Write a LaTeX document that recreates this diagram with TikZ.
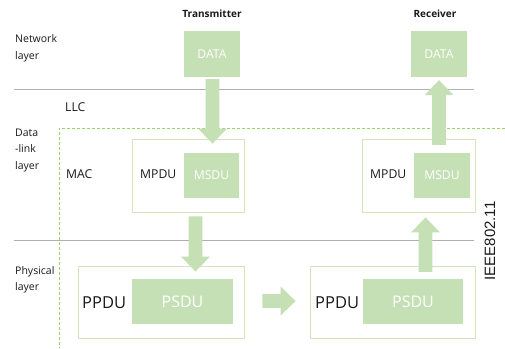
\documentclass[tikz,border=0pt]{standalone}
\usepackage{fontspec}
\setmainfont{Open Sans}
\newfontfamily\ieeefont{Liberation Sans}
\usetikzlibrary{calc}
\definecolor{boxgreen}{HTML}{C5E0B4}
\definecolor{edgegreen}{HTML}{CFE6C0}
\definecolor{dashgreen}{HTML}{9CD36E}
\definecolor{rulegray}{HTML}{B0B0B0}
\definecolor{txt}{HTML}{1A1A1A}
\newcommand{\greenarrow}[2]{%
  \path ($(#2)!15pt!(#1)$) coordinate (hb);
  \fill[boxgreen] ($(#1)!6.8pt!90:(#2)$) -- ($(hb)!6.8pt!90:(#2)$) -- ($(hb)!14.5pt!90:(#2)$) -- (#2)
    -- ($(hb)!14.5pt!-90:(#2)$) -- ($(hb)!6.8pt!-90:(#2)$) -- ($(#1)!6.8pt!-90:(#2)$) -- cycle;}
\begin{document}
\begin{tikzpicture}[x=1pt,y=-1pt,
  fillbox/.style={fill=boxgreen, draw=none, text=white, inner sep=0pt,
    font=\fontsize{12.2}{14}\selectfont},
  bigfill/.style={fillbox, font=\fontsize{16}{18}\selectfont},
  outerbox/.style={draw=edgegreen, line width=0.9pt, fill=none, inner sep=0pt},
  label/.style={text=txt, inner sep=0pt, font=\fontsize{12.2}{14}\selectfont},
  biglabel/.style={text=txt, inner sep=0pt, font=\fontsize{16.5}{18}\selectfont},
  layerlabel/.style={text=txt, inner sep=0pt, align=left, anchor=west},
  headlabel/.style={text=txt, inner sep=0pt, font=\fontsize{10}{12}\selectfont\bfseries},
  rule/.style={draw=rulegray, line width=0.9pt},
  dashrule/.style={draw=dashgreen, line width=0.8pt, dash pattern=on 3pt off 2pt}]
\useasboundingbox (0,0) rectangle (505,348);
\fill[white] (0,0) rectangle (505,348);

% separators
\draw[rule] (14,89) -- (474,89);
\draw[rule] (14,240) -- (474,240);
\draw[dashrule] (505,128) -- (59,128) -- (59,348);

% headings
\node[headlabel] (tx) at (212,14) {Transmitter};
\node[headlabel] (rx) at (435,14) {Receiver};

% layer labels
\node[layerlabel, font=\fontsize{10.5}{17}\selectfont] (net) at (15,48.5) {Network\\layer};
\node[layerlabel, font=\fontsize{10.5}{16.5}\selectfont] (dl) at (15,150.5) {Data\\-link\\layer};
\node[layerlabel, font=\fontsize{10.5}{16}\selectfont] (phy) at (15,280) {Physical\\layer};
\node[label, anchor=west] (llc) at (65,107) {LLC};
\node[label, anchor=west] (mac) at (66,174.5) {MAC};

% boxes
\node[fillbox, minimum width=56pt, minimum height=46pt] (dtx) at (212,54) {DATA};
\node[fillbox, minimum width=56pt, minimum height=46pt] (drx) at (439,54) {DATA};

\node[outerbox, minimum width=112pt, minimum height=73pt] (mpdutx) at (188,175.5) {};
\node[fillbox, minimum width=55pt, minimum height=45pt] (msdutx) at (211.5,175.5) {MSDU};
\node[label, anchor=west] (mptx) at (140,174.5) {MPDU};

\node[outerbox, minimum width=113pt, minimum height=73pt] (mpdurx) at (418.5,175.5) {};
\node[fillbox, minimum width=56pt, minimum height=45pt] (msdurx) at (442,175.5) {MSDU};
\node[label, anchor=west] (mprx) at (370,174.5) {MPDU};

\node[outerbox, minimum width=166pt, minimum height=72pt] (ppdutx) at (161,302) {};
\node[bigfill, minimum width=101pt, minimum height=45pt] (psdutx) at (182.5,301.5) {PSDU};
\node[biglabel, anchor=west] (pptx) at (82,303) {PPDU};

\node[outerbox, minimum width=165pt, minimum height=72pt] (ppdurx) at (392.5,302) {};
\node[bigfill, minimum width=100pt, minimum height=45pt] (psdurx) at (413,301.5) {PSDU};
\node[biglabel, anchor=west] (pprx) at (315,303) {PPDU};

\node[text=txt, inner sep=0pt, rotate=90, font=\ieeefont\fontsize{15}{17}\selectfont] (ieee) at (490,241) {IEEE802.11};

% arrows
\coordinate (a1s) at ($(dtx.south)+(0.5,2)$);
\coordinate (a1e) at ($(a1s |- mpdutx.north)+(0,5)$);
\greenarrow{a1s}{a1e}
\coordinate (a2s) at ($(mpdutx.south)+(7.5,4)$);
\coordinate (a2e) at ($(a2s |- ppdutx.north)+(0,6)$);
\greenarrow{a2s}{a2e}
\coordinate (a3s) at ($(ppdutx.east)+(18,-1)$);
\coordinate (a3e) at ($(ppdurx.west |- a3s)+(-14,0)$);
\greenarrow{a3s}{a3e}
\coordinate (a4s) at ($(psdurx.north)+(12.5,-7)$);
\coordinate (a4e) at ($(a4s |- mpdurx.south)+(0,5)$);
\greenarrow{a4s}{a4e}
\coordinate (a5s) at ($(msdurx.north)+(-3,-8)$);
\coordinate (a5e) at ($(a5s |- drx.south)+(0,3)$);
\greenarrow{a5s}{a5e}
\end{tikzpicture}
\end{document}
